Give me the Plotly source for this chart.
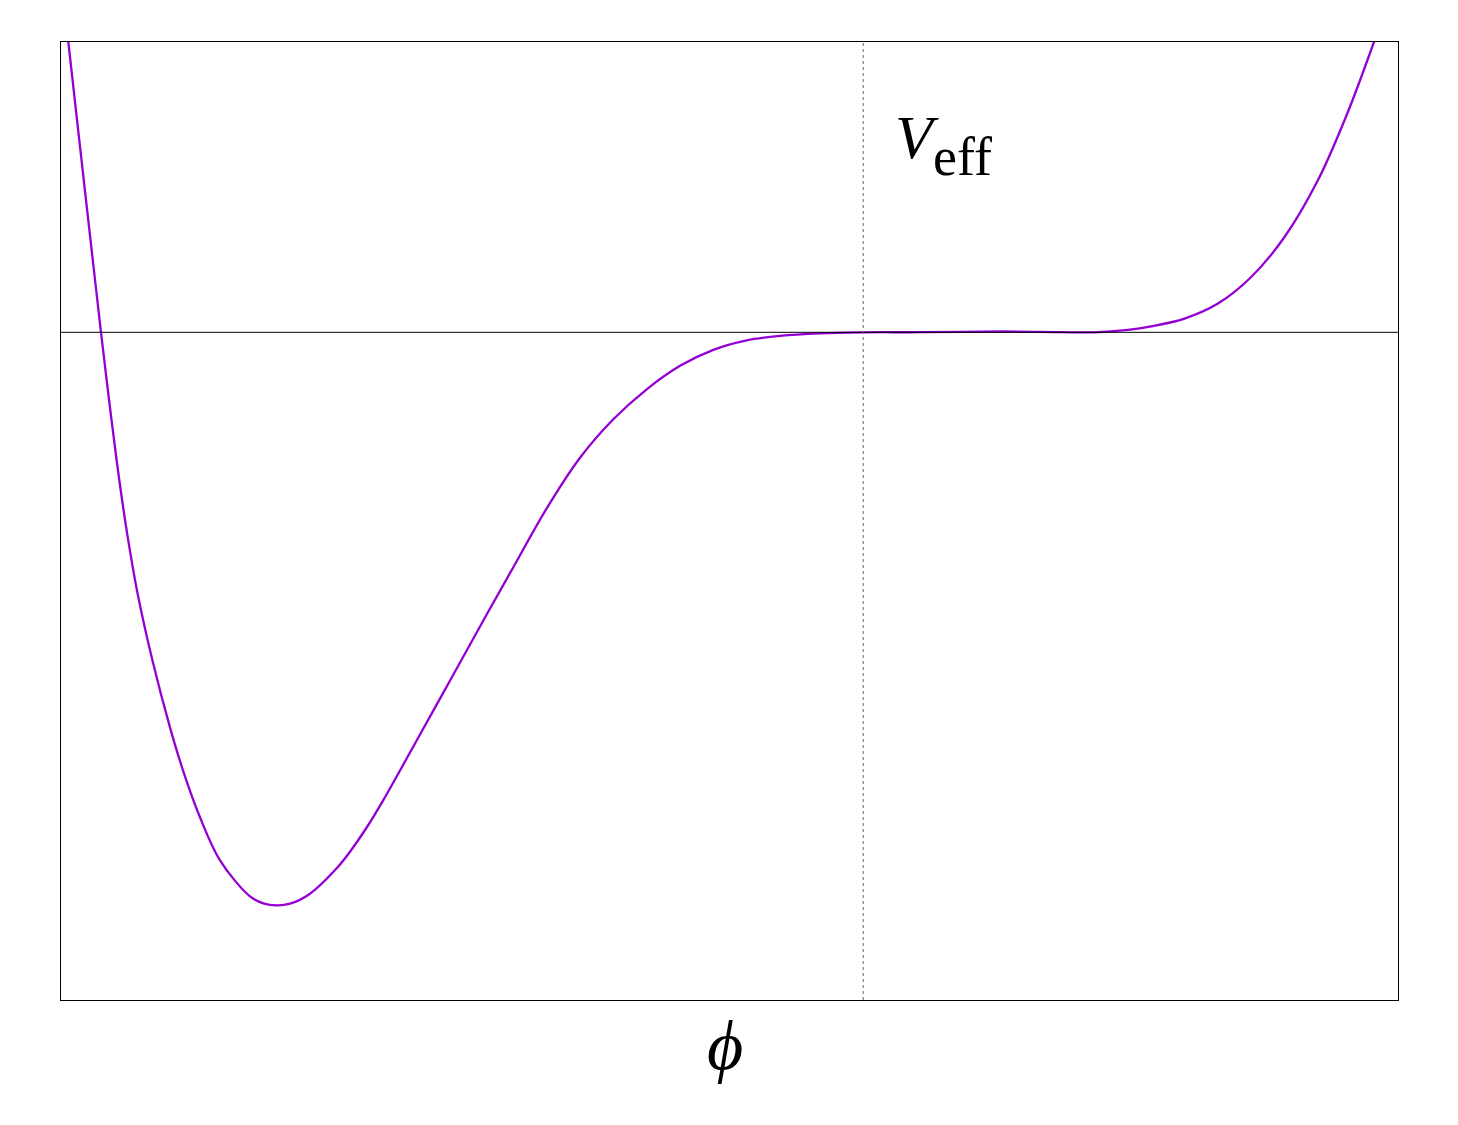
import plotly.graph_objects as go

###############################################################################
# effective potential V_eff(phi)
phi = [-1.4910, -1.4863, -1.4557, -1.4252, -1.4108, -1.3958, -1.3785,
       -1.3566, -1.3285, -1.2962, -1.2713, -1.2401, -1.2027, -1.1466,
       -1.1217, -1.0967, -1.0718, -1.0344, -0.9845, -0.9596, -0.9284,
       -0.8973, -0.8661, -0.8287, -0.7851, -0.7414, -0.7040, -0.6542,
       -0.5918, -0.5295, -0.4673, -0.4048, -0.3425, -0.2803, -0.2178,
       -0.1555, -0.0808, 0.0, 0.1085, 0.2580, 0.3702, 0.4319, 0.4950,
       0.5385, 0.6008, 0.6633, 0.7255, 0.7878, 0.8502, 0.9000, 0.9550,
       0.9686]
v_eff = [1.0747, 1.0, 0.4960, 0.0, -0.2229, -0.4433, -0.6676,
         -0.9015, -1.1340, -1.3607, -1.5122, -1.6707, -1.8188, -1.9428,
         -1.9669, -1.9738, -1.9683, -1.9338, -1.8464, -1.7892, -1.7058,
         -1.6114, -1.5095, -1.3855, -1.2411, -1.0961, -0.9721, -0.8092,
         -0.6066, -0.4323, -0.2997, -0.1963, -0.1154, -0.0603, -0.0276,
         -0.0121, -0.0034, 0.0, 0.0003, 0.0028, 0.0007, 0.0, 0.0086,
         0.0207, 0.0472, 0.0989, 0.1905, 0.3283, 0.5236, 0.7303, 1.0,
         1.0747]

phi_range = [-1.5, 1.0]
v_range = [-2.3, 1.0]
###############################################################################

fig = go.Figure()
fig.add_trace(go.Scatter(
    x=phi, y=v_eff, mode='lines',
    line=dict(color='#9400D3', width=2.3, shape='spline', smoothing=1.0),
    hoverinfo='skip', showlegend=False
))

# zero line and the dotted marker at phi = 0
fig.add_shape(type='line', xref='paper', x0=0, x1=1, yref='y', y0=0, y1=0,
              line=dict(color='black', width=1))
fig.add_shape(type='line', xref='x', x0=0, x1=0, yref='paper', y0=0, y1=1,
              line=dict(color='#666666', width=1, dash='dot'))

fig.add_annotation(text='<i>V</i>', xref='paper', yref='paper',
                   x=0.622, y=0.901, xanchor='left', yanchor='middle',
                   showarrow=False,
                   font=dict(family='Liberation Serif', size=62, color='black'))
fig.add_annotation(text='eff', xref='paper', yref='paper',
                   x=0.6505, y=0.880, xanchor='left', yanchor='middle',
                   showarrow=False,
                   font=dict(family='Liberation Serif', size=54, color='black'))
fig.add_annotation(text='<i>ϕ</i>', xref='paper', yref='paper',
                   x=0.497, y=-0.047, xanchor='center', yanchor='middle',
                   showarrow=False,
                   font=dict(family='Liberation Serif', size=70, color='black'))

axis_style = dict(showgrid=False, zeroline=False, showticklabels=False,
                  ticks='', showline=True, linecolor='black', linewidth=1,
                  mirror=True)
fig.update_xaxes(range=phi_range, **axis_style)
fig.update_yaxes(range=v_range, **axis_style)

# page body adds an 8px margin, so the figure is shrunk to fit
fig.update_layout(
    width=1442, height=1109,
    margin=dict(l=53, r=52, t=34, b=117),
    plot_bgcolor='white', paper_bgcolor='white',
)

fig.write_html("out.html")
